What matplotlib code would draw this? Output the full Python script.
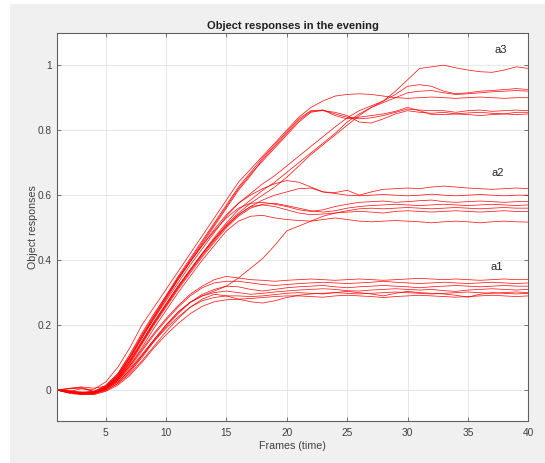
import matplotlib
matplotlib.use("Agg")
import matplotlib.pyplot as plt
import numpy as np
from matplotlib.patches import Rectangle

plt.rcParams["font.family"] = ["Liberation Sans", "DejaVu Sans"]

frames = np.arange(1, 41)

# a3 group: four early risers, three late risers
a3_e1 = [0, -0.004, 0.004, 0.002, 0.025, 0.07, 0.13, 0.20, 0.255, 0.31,
         0.365, 0.42, 0.475, 0.53, 0.585, 0.64, 0.68, 0.72, 0.76, 0.80,
         0.84, 0.87, 0.89, 0.905, 0.91, 0.912, 0.91, 0.905, 0.90, 0.898,
         0.90, 0.902, 0.90, 0.898, 0.90, 0.902, 0.90, 0.898, 0.90, 0.90]
a3_e2 = [0, -0.008, -0.01, -0.006, 0.015, 0.05, 0.11, 0.175, 0.235, 0.29,
         0.35, 0.405, 0.46, 0.515, 0.57, 0.625, 0.67, 0.715, 0.755, 0.795,
         0.835, 0.86, 0.862, 0.85, 0.84, 0.835, 0.838, 0.845, 0.855, 0.865,
         0.862, 0.86, 0.86, 0.855, 0.86, 0.862, 0.858, 0.86, 0.862, 0.86]
a3_e3 = [0, 0.006, 0.008, -0.004, 0.005, 0.04, 0.095, 0.16, 0.22, 0.28,
         0.34, 0.395, 0.45, 0.505, 0.56, 0.615, 0.66, 0.71, 0.75, 0.79,
         0.83, 0.858, 0.86, 0.855, 0.845, 0.825, 0.822, 0.835, 0.85, 0.86,
         0.855, 0.852, 0.855, 0.85, 0.853, 0.855, 0.852, 0.85, 0.855, 0.855]
a3_e4 = [0, -0.005, -0.012, -0.01, 0.008, 0.045, 0.10, 0.165, 0.225, 0.285,
         0.345, 0.40, 0.455, 0.51, 0.565, 0.62, 0.665, 0.705, 0.745, 0.785,
         0.825, 0.855, 0.862, 0.845, 0.835, 0.84, 0.845, 0.85, 0.858, 0.87,
         0.86, 0.848, 0.848, 0.85, 0.848, 0.845, 0.848, 0.85, 0.848, 0.85]
a3_l1 = [0, -0.006, -0.008, -0.004, 0.012, 0.045, 0.10, 0.16, 0.22, 0.275,
         0.33, 0.385, 0.435, 0.485, 0.535, 0.575, 0.605, 0.635, 0.66, 0.69,
         0.72, 0.75, 0.78, 0.81, 0.838, 0.86, 0.875, 0.89, 0.92, 0.955,
         0.99, 0.995, 1.0, 0.992, 0.985, 0.98, 0.978, 0.985, 0.995, 0.99]
a3_l2 = [0, 0.004, 0.006, -0.004, 0.006, 0.035, 0.085, 0.145, 0.205, 0.26,
         0.315, 0.37, 0.42, 0.47, 0.515, 0.555, 0.585, 0.615, 0.64, 0.67,
         0.70, 0.73, 0.76, 0.79, 0.825, 0.85, 0.87, 0.89, 0.91, 0.935,
         0.94, 0.935, 0.92, 0.912, 0.915, 0.92, 0.922, 0.925, 0.928, 0.925]
a3_l3 = [0, -0.007, -0.01, -0.006, 0.01, 0.04, 0.09, 0.15, 0.21, 0.265,
         0.32, 0.37, 0.42, 0.465, 0.51, 0.545, 0.575, 0.60, 0.625, 0.655,
         0.69, 0.725, 0.755, 0.785, 0.815, 0.845, 0.87, 0.885, 0.90, 0.915,
         0.92, 0.922, 0.915, 0.91, 0.912, 0.915, 0.918, 0.92, 0.922, 0.92]

# a2 group
a2_a = [0, -0.004, -0.009, -0.007, 0.01, 0.045, 0.10, 0.165, 0.225, 0.285,
        0.34, 0.395, 0.445, 0.495, 0.54, 0.575, 0.60, 0.62, 0.635, 0.645,
        0.64, 0.625, 0.61, 0.608, 0.615, 0.60, 0.61, 0.618, 0.62, 0.622,
        0.62, 0.625, 0.628, 0.625, 0.622, 0.62, 0.618, 0.62, 0.622, 0.62]
a2_b = [0, -0.002, -0.006, -0.01, 0.004, 0.035, 0.085, 0.145, 0.205, 0.26,
        0.315, 0.365, 0.415, 0.46, 0.505, 0.54, 0.565, 0.585, 0.60, 0.61,
        0.62, 0.622, 0.61, 0.605, 0.60, 0.598, 0.60, 0.602, 0.60, 0.598,
        0.60, 0.603, 0.60, 0.598, 0.60, 0.602, 0.60, 0.598, 0.60, 0.60]
a2_c = [0, 0.005, 0.01, 0.006, 0.012, 0.05, 0.105, 0.17, 0.23, 0.29,
        0.345, 0.395, 0.445, 0.49, 0.53, 0.56, 0.575, 0.578, 0.572, 0.565,
        0.555, 0.55, 0.555, 0.565, 0.572, 0.578, 0.58, 0.582, 0.578, 0.58,
        0.583, 0.585, 0.58, 0.578, 0.58, 0.582, 0.58, 0.578, 0.58, 0.58]
a2_d = [0, -0.008, -0.012, -0.009, 0.005, 0.035, 0.08, 0.14, 0.20, 0.255,
        0.31, 0.36, 0.41, 0.455, 0.50, 0.535, 0.56, 0.572, 0.575, 0.568,
        0.56, 0.552, 0.548, 0.552, 0.56, 0.565, 0.568, 0.57, 0.572, 0.57,
        0.568, 0.57, 0.572, 0.57, 0.568, 0.57, 0.572, 0.57, 0.568, 0.57]
a2_late = [0, -0.006, -0.01, -0.008, 0.004, 0.025, 0.06, 0.105, 0.155, 0.20,
           0.24, 0.27, 0.29, 0.305, 0.32, 0.345, 0.375, 0.405, 0.445, 0.49,
           0.505, 0.52, 0.535, 0.545, 0.552, 0.558, 0.56, 0.558, 0.56, 0.562,
           0.56, 0.558, 0.56, 0.562, 0.56, 0.558, 0.56, 0.562, 0.56, 0.56]
a2_f = [0, -0.003, -0.008, -0.006, 0.008, 0.04, 0.09, 0.15, 0.21, 0.265,
        0.32, 0.37, 0.42, 0.465, 0.505, 0.54, 0.565, 0.57, 0.565, 0.555,
        0.545, 0.54, 0.542, 0.545, 0.548, 0.55, 0.548, 0.545, 0.55, 0.552,
        0.55, 0.548, 0.55, 0.552, 0.55, 0.548, 0.55, 0.552, 0.55, 0.55]
a2_g = [0, -0.005, -0.01, -0.012, 0.002, 0.03, 0.075, 0.13, 0.19, 0.245,
        0.30, 0.35, 0.40, 0.445, 0.49, 0.52, 0.535, 0.538, 0.53, 0.525,
        0.522, 0.52, 0.525, 0.53, 0.525, 0.52, 0.518, 0.52, 0.522, 0.52,
        0.518, 0.515, 0.518, 0.52, 0.518, 0.515, 0.518, 0.52, 0.518, 0.517]

# a1 group
a1_a = [0, -0.005, -0.008, -0.006, 0.008, 0.035, 0.075, 0.125, 0.175, 0.22,
        0.26, 0.295, 0.32, 0.34, 0.35, 0.345, 0.34, 0.338, 0.335, 0.338,
        0.34, 0.342, 0.34, 0.338, 0.34, 0.342, 0.34, 0.338, 0.34, 0.342,
        0.344, 0.342, 0.34, 0.342, 0.34, 0.338, 0.34, 0.342, 0.34, 0.34]
a1_b = [0, -0.008, -0.012, -0.01, 0.003, 0.03, 0.07, 0.12, 0.17, 0.215,
        0.255, 0.29, 0.315, 0.33, 0.335, 0.335, 0.33, 0.325, 0.322, 0.325,
        0.328, 0.33, 0.332, 0.33, 0.328, 0.33, 0.332, 0.335, 0.332, 0.33,
        0.328, 0.33, 0.332, 0.33, 0.328, 0.33, 0.332, 0.33, 0.328, 0.33]
a1_c = [0, -0.004, -0.01, -0.012, -0.002, 0.02, 0.055, 0.10, 0.15, 0.195,
        0.235, 0.27, 0.295, 0.31, 0.32, 0.318, 0.31, 0.305, 0.31, 0.315,
        0.318, 0.32, 0.322, 0.318, 0.315, 0.318, 0.32, 0.322, 0.32, 0.318,
        0.315, 0.318, 0.32, 0.322, 0.32, 0.318, 0.32, 0.322, 0.32, 0.32]
a1_d = [0, -0.007, -0.006, -0.004, 0.006, 0.03, 0.065, 0.11, 0.155, 0.20,
        0.24, 0.27, 0.29, 0.30, 0.305, 0.30, 0.295, 0.298, 0.302, 0.305,
        0.308, 0.31, 0.312, 0.31, 0.306, 0.305, 0.308, 0.31, 0.312, 0.31,
        0.308, 0.31, 0.306, 0.304, 0.308, 0.31, 0.312, 0.31, 0.308, 0.31]
a1_e = [0, -0.01, -0.014, -0.011, 0.0, 0.02, 0.05, 0.09, 0.135, 0.18,
        0.22, 0.255, 0.28, 0.295, 0.29, 0.28, 0.272, 0.268, 0.275, 0.285,
        0.292, 0.296, 0.298, 0.30, 0.298, 0.296, 0.298, 0.30, 0.302, 0.30,
        0.298, 0.296, 0.298, 0.30, 0.302, 0.30, 0.298, 0.30, 0.302, 0.30]
a1_f = [0, -0.003, -0.009, -0.01, 0.002, 0.025, 0.06, 0.105, 0.15, 0.19,
        0.225, 0.255, 0.275, 0.285, 0.29, 0.29, 0.288, 0.29, 0.294, 0.298,
        0.30, 0.298, 0.296, 0.30, 0.304, 0.30, 0.296, 0.29, 0.298, 0.304,
        0.30, 0.298, 0.296, 0.292, 0.286, 0.295, 0.30, 0.298, 0.296, 0.298]
a1_g = [0, -0.006, -0.012, -0.014, -0.004, 0.015, 0.045, 0.085, 0.13, 0.17,
        0.205, 0.235, 0.258, 0.272, 0.278, 0.28, 0.282, 0.285, 0.288, 0.29,
        0.29, 0.288, 0.286, 0.29, 0.292, 0.29, 0.288, 0.285, 0.288, 0.29,
        0.292, 0.29, 0.288, 0.286, 0.288, 0.29, 0.292, 0.29, 0.288, 0.29]

responses = [a3_e1, a3_e2, a3_e3, a3_e4, a3_l1, a3_l2, a3_l3,
             a2_a, a2_b, a2_c, a2_d, a2_late, a2_f, a2_g,
             a1_a, a1_b, a1_c, a1_d, a1_e, a1_f, a1_g]

group_labels = ["a3", "a2", "a1"]
label_pos = [(37.7, 1.046), (37.5, 0.667), (37.4, 0.38)]

W, H = 545, 463
fig = plt.figure(figsize=(W / 100, H / 100), dpi=100, facecolor="#f0f0f0")
# white screenshot margins
fig.add_artist(Rectangle((0, 0), 10 / W, 1, transform=fig.transFigure,
                         facecolor="white", edgecolor="none"))
fig.add_artist(Rectangle((0, 1 - 4 / H), 1, 4 / H, transform=fig.transFigure,
                         facecolor="white", edgecolor="none"))

ax = fig.add_axes([57.3 / W, 42 / H, 471 / W, 388.3 / H])
ax.set_facecolor("white")

for r in responses:
    ax.plot(frames, r, color="#ff0000", lw=0.55, alpha=0.9)

for lab, (px, py) in zip(group_labels, label_pos):
    ax.text(px, py, lab, ha="center", va="center", fontsize=8, color="#262626")

ax.set_xlim(1, 40)
ax.set_ylim(-0.095, 1.1)
ax.set_xticks([5, 10, 15, 20, 25, 30, 35, 40])
ax.set_yticks([0, 0.2, 0.4, 0.6, 0.8, 1])
ax.set_yticklabels(["0", "0.2", "0.4", "0.6", "0.8", "1"])
ax.grid(True, color="#e3e3e3", lw=0.6)
ax.set_axisbelow(True)
ax.tick_params(direction="in", length=3, width=0.6, colors="#606060",
               labelcolor="#404040", labelsize=7.3, top=True, right=True)
ax.tick_params(axis="x", pad=5)
ax.tick_params(axis="y", pad=4)
for s in ax.spines.values():
    s.set_color("#606060")
    s.set_linewidth(0.8)

ax.set_title("Object responses in the evening", fontsize=8, fontweight="bold",
             color="#202020", pad=3)
ax.set_xlabel("Frames (time)", fontsize=7.7, color="#404040")
ax.set_ylabel("Object responses", fontsize=7.7, color="#404040")
ax.xaxis.set_label_coords(0.5, -0.0636)
ax.xaxis.label.set_va("center")
ax.yaxis.set_label_coords(-0.052, 0.5)
ax.yaxis.label.set_va("center")

fig.savefig("out.png", dpi=100, facecolor=fig.get_facecolor())
